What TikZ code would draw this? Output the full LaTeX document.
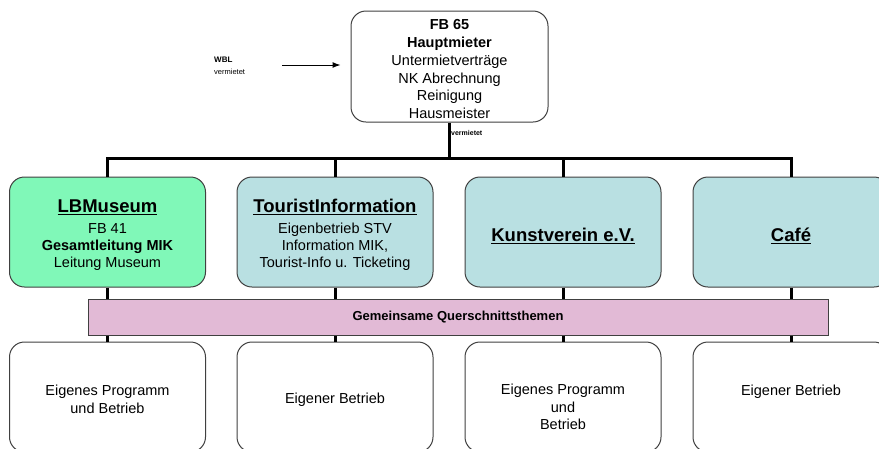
\documentclass[tikz,border=0pt]{standalone}
\usepackage{fontspec}
\setmainfont{Liberation Sans}
\usetikzlibrary{arrows.meta}
\definecolor{museumgreen}{RGB}{128,248,184}
\definecolor{paleblue}{RGB}{185,224,226}
\definecolor{palepink}{RGB}{226,186,214}
\definecolor{edgegray}{RGB}{64,64,64}
\newcommand{\titlefont}{\bfseries\fontsize{18.5}{20}\selectfont}
\newcommand{\liftup}[1]{\rule{0pt}{#1}}
\begin{document}
\begin{tikzpicture}[x=1pt,y=-1pt,
  box/.style={draw=edgegray, line width=1pt, rounded corners=15pt,
    minimum width=196pt, minimum height=110pt, inner sep=0pt, align=center,
    font=\fontsize{14.5}{17}\selectfont},
  bodytext/.style={inner sep=0pt, align=center, font=\fontsize{14.5}{17.5}\selectfont},
  conn/.style={line width=3pt, line join=miter},
  smalltext/.style={anchor=west, inner sep=0pt}]
\useasboundingbox (0,0) rectangle (879,448);
\clip (0,0) rectangle (879,448);

% top box
\node[box, minimum width=197pt, minimum height=111pt, fill=white,
  font=\fontsize{14.5}{17.8}\selectfont] (top) at (449.5,66.5)
  {\liftup{15.5pt}\textbf{FB 65}\\\textbf{Hauptmieter}\\Untermietverträge\\NK Abrechnung\\Reinigung\\Hausmeister};

% WBL
\node[smalltext, font=\bfseries\fontsize{8}{9}\selectfont] (wbl) at (214,60) {WBL};
\node[smalltext, font=\fontsize{7.5}{8}\selectfont] (wblv) at (214,72) {vermietet};
\coordinate (arrowtail) at (282,65);
\draw[line width=1pt, -{Latex[length=8pt,width=6pt]}, shorten >=10pt]
  (arrowtail) -- (arrowtail -| top.west);

\node[smalltext, font=\bfseries\fontsize{7}{8}\selectfont] (verm) at (451,133) {vermietet};

% middle boxes
\node[box, fill=museumgreen] (m1) at (107.5,232)
  {{\titlefont\liftup{19.5pt}\underline{LBMuseum}}\\[4pt]FB 41\\\textbf{Gesamtleitung MIK}\\Leitung Museum};
\node[box, fill=paleblue] (m2) at (335,232)
  {{\titlefont\liftup{19.5pt}\underline{TouristInformation}}\\[4pt]Eigenbetrieb STV\\Information MIK,\\Tourist-Info u. Ticketing};
\node[box, fill=paleblue] (m3) at (563,232) {{\titlefont\liftup{20.5pt}\underline{Kunstverein e.V.}}};
\node[box, fill=paleblue] (m4) at (791,232) {{\titlefont\liftup{20.5pt}\underline{Café}}};

% bus
\coordinate (bus) at (449.5,158);
\draw[conn] (top.south) -- (top.south |- bus);
\draw[conn] (m1.north) -- (m1.north |- bus) -- (m4.north |- bus) -- (m4.north);
\draw[conn] (m2.north) -- (m2.north |- bus);
\draw[conn] (m3.north) -- (m3.north |- bus);

% pink bar
\node[draw=edgegray, line width=1pt, fill=palepink, minimum width=740pt,
  minimum height=36pt, inner sep=0pt, font=\bfseries\fontsize{13}{15}\selectfont]
  (pink) at (458,317) {Gemeinsame Querschnittsthemen};

% bottom boxes
\node[box, fill=white] (b1) at (107.5,397) {};
\node[box, fill=white] (b2) at (335,397) {};
\node[box, fill=white] (b3) at (563,397) {};
\node[box, fill=white] (b4) at (791,397) {};
\node[bodytext] (b1t) at ([yshift=-2.5pt]b1.center) {Eigenes Programm\\und Betrieb};
\node[bodytext] (b2t) at ([yshift=-3pt]b2.center) {Eigener Betrieb};
\node[bodytext] (b3t) at ([yshift=-10pt]b3.center) {Eigenes Programm\\und\\Betrieb};
\node[bodytext] (b4t) at ([yshift=5pt]b4.center) {Eigener Betrieb};

% connectors through pink bar
\foreach \m/\b in {m1/b1, m2/b2, m3/b3, m4/b4}{
  \draw[conn] (\m.south) -- (\m.south |- pink.north);
  \draw[conn] (\b.north |- pink.south) -- (\b.north);
}
\end{tikzpicture}
\end{document}
